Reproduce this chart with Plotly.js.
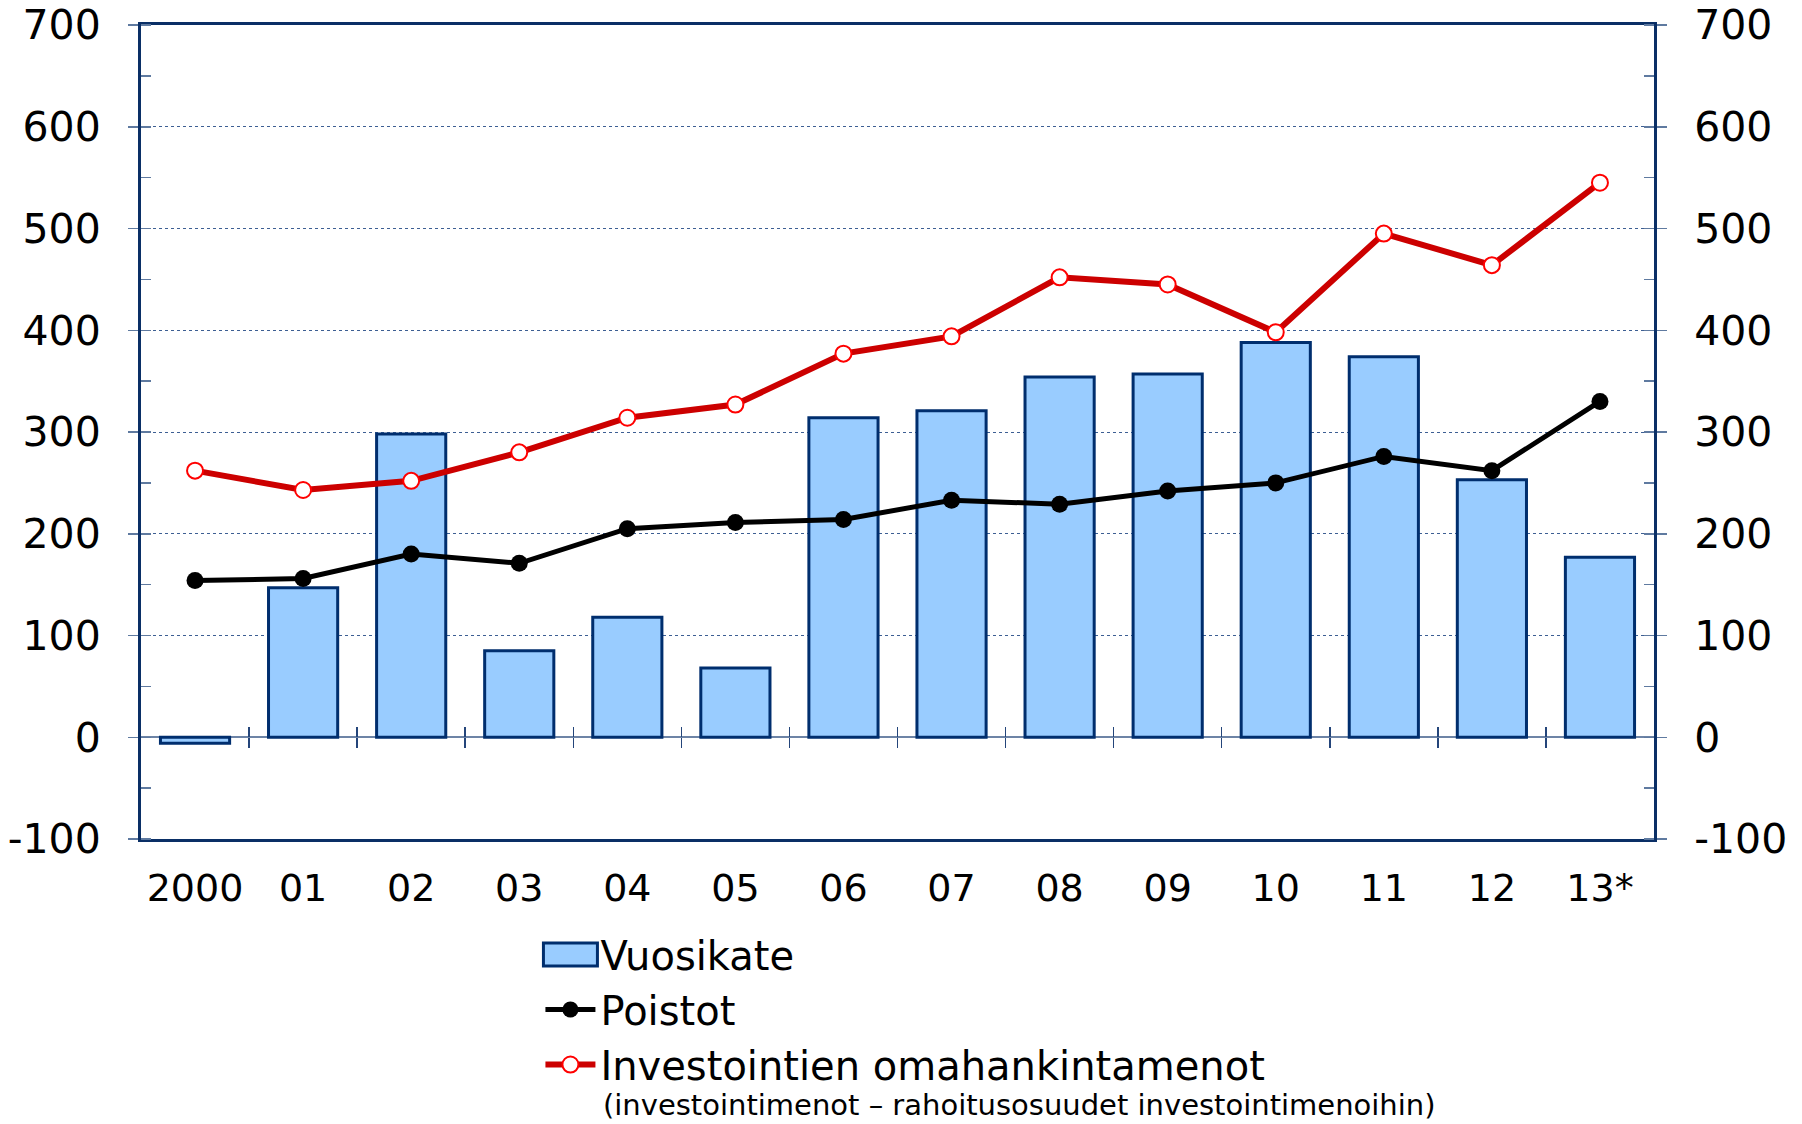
<!DOCTYPE html>
<html><head><meta charset="utf-8">
<script src="https://cdn.plot.ly/plotly-3.0.1.min.js"></script>
<style>html,body{margin:0;padding:0;background:#fff;} #chart{width:1802px;height:1124px;}</style>
</head><body><div id="chart"></div>
<script>
const categories = ["2000","01","02","03","04","05","06","07","08","09","10","11","12","13*"];
const vuosikate = [-6,147,298,85,118,68,314,321,354,357,388,374,253,177];
const poistot = [154,156,180,171,205,211,214,233,229,242,250,276,262,330];
const investoinnit = [262,243,252,280,314,327,377,394,452,445,398,495,464,545];
const yTicks = [-100,0,100,200,300,400,500,600,700];
const yTickText = ["-100","0","100","200","300","400","500","600","700"];
const seriesNames = ["Vuosikate","Poistot","Investointien omahankintamenot"];
const subNote = "(investointimenot – rahoitusosuudet investointimenoihin)";
const boundaryTicks = categories.slice(1).map((_, i) => i + 0.5);

const NAVY = '#0a2f66';
const TICKC = '#5f7aa0';
const FONT = 'DejaVu Sans, Verdana, sans-serif';

const traces = [
  {type:'bar', x:categories, y:vuosikate, name:seriesNames[0], width:0.64,
   marker:{color:'#99CCFF', line:{color:'#002E6E', width:3}}, hoverinfo:'x+y'},
  {type:'scatter', mode:'lines+markers', x:categories, y:poistot, name:seriesNames[1],
   line:{color:'#000000', width:5}, marker:{color:'#000000', size:17}},
  {type:'scatter', mode:'lines+markers', x:categories, y:investoinnit, name:seriesNames[2],
   line:{color:'#CC0000', width:6},
   marker:{color:'#FFFFFF', size:16, line:{color:'#FF0000', width:2}}},
  {type:'scatter', x:[categories[0]], y:[null], yaxis:'y2', showlegend:false, hoverinfo:'skip'},
  {type:'scatter', x:[0], y:[null], xaxis:'x2', showlegend:false, hoverinfo:'skip'},
  {type:'scatter', x:[0], y:[null], xaxis:'x3', showlegend:false, hoverinfo:'skip'}
];

const yCommon = {
  range:[-100,700], tickmode:'array', tickvals:yTicks, ticktext:yTickText,
  ticks:'outside', ticklen:10, ticklabelstandoff:19,
  tickcolor:TICKC, tickwidth:1.5, showline:true, linecolor:NAVY, linewidth:3,
  tickfont:{family:FONT, size:41, color:'#000'},
  minor:{dtick:50, ticks:'inside', ticklen:10, tickcolor:TICKC, tickwidth:1.5, showgrid:false}
};
const xBoundary = {
  overlaying:'x', anchor:'free', position:0.125, range:[-0.5,13.5],
  tickmode:'array', tickvals:boundaryTicks, ticklen:10, tickcolor:'#24457a', tickwidth:1.5,
  showticklabels:false, showline:false, showgrid:false, zeroline:false
};

const layout = {
  width:1802, height:1124,
  margin:{l:141, r:148, t:25, b:285},
  paper_bgcolor:'#fff', plot_bgcolor:'#fff',
  font:{family:FONT, color:'#000'},
  showlegend:true,
  xaxis:{type:'category', range:[-0.5,13.5], showline:true, mirror:true, linecolor:NAVY, linewidth:3,
    ticks:'', showgrid:false, zeroline:false, ticklabelstandoff:13, tickangle:0,
    tickfont:{family:FONT, size:38, color:'#000'}},
  xaxis2:Object.assign({ticks:'outside'}, xBoundary),
  xaxis3:Object.assign({ticks:'inside'}, xBoundary),
  yaxis:Object.assign({}, yCommon, {showgrid:true, gridcolor:'#3d5f93', gridwidth:1, griddash:'dot',
    zeroline:true, zerolinecolor:'#6d84a6', zerolinewidth:2}),
  yaxis2:Object.assign({}, yCommon, {overlaying:'y', side:'right', showgrid:false, zeroline:false}),
  legend:{x:0.264, xanchor:'left', y:-0.102, yanchor:'top',
    orientation:'v', font:{family:FONT, size:40, color:'#000'}, itemwidth:50, valign:'top',
    bgcolor:'rgba(0,0,0,0)', tracegroupgap:0, traceorder:'normal'},
  annotations:[{xref:'paper', yref:'paper', x:0.304, y:-0.3268, xanchor:'left', yanchor:'middle',
    showarrow:false, text:subNote, font:{family:FONT, size:29, color:'#000'}}]
};

Plotly.newPlot('chart', traces, layout, {displayModeBar:false, staticPlot:true}).then(gd => {
  // widen the bar swatch in the legend to match the reference's rectangular key
  gd.querySelectorAll('.legend .legendpoints path').forEach(p => {
    if ((p.getAttribute('d') || '') === 'M6,6H-6V-6H6Z') {
      p.setAttribute('d', 'M27,11.5H-27V-11.5H27Z');
      p.style.strokeWidth = '3px';
    }
  });
});
</script>
</body></html>
